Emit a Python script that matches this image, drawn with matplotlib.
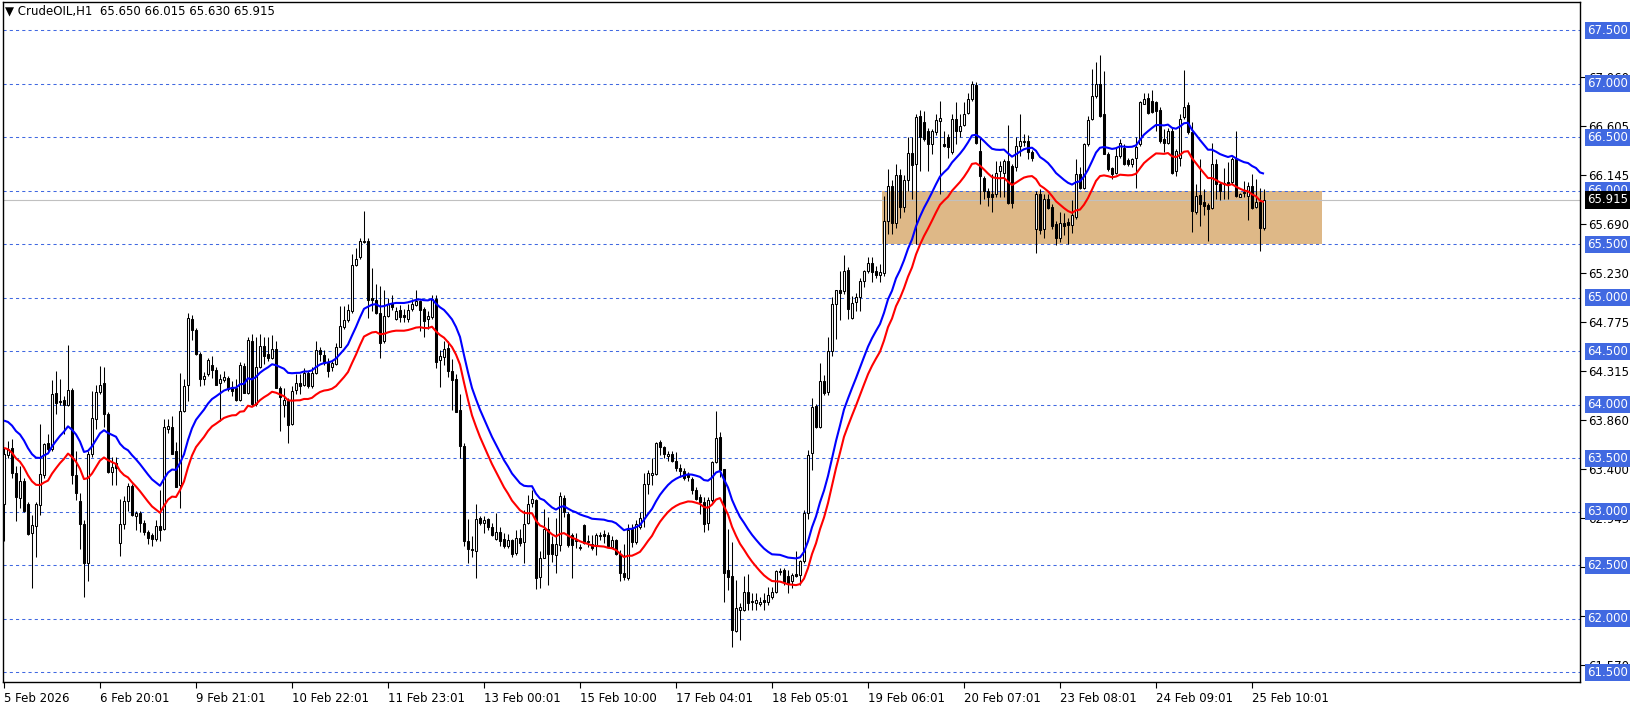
import numpy as np
import pandas as pd
import matplotlib
matplotlib.use("Agg")
import matplotlib.pyplot as plt
from matplotlib.transforms import blended_transform_factory

symbol_title = "CrudeOIL,H1"

opens = [
    63.07, 63.53, 63.60, 63.36, 63.13, 63.29, 63.07, 62.80, 62.87, 63.06,
    63.34, 63.64, 63.59, 64.11, 64.03, 64.05, 64.00, 64.14, 63.34, 63.10,
    62.89, 62.52, 63.54, 63.87, 64.12, 64.20, 63.91, 63.37, 63.46, 62.71,
    62.89, 63.10, 63.24, 62.96, 62.99, 62.90, 62.81, 62.78, 62.75, 62.87,
    62.84, 63.77, 63.79, 63.57, 63.25, 63.94, 64.19, 64.80, 64.70, 64.48,
    64.24, 64.29, 64.37, 64.33, 64.20, 64.23, 64.25, 64.17, 64.16, 64.05,
    64.36, 64.11, 64.60, 64.01, 64.35, 64.55, 64.48, 64.44, 64.52, 64.16,
    64.00, 64.04, 63.82, 64.14, 64.20, 64.19, 64.30, 64.18, 64.30, 64.51,
    64.47, 64.39, 64.35, 64.38, 64.54, 64.73, 64.79, 64.88, 65.31, 65.38,
    65.52, 65.53, 65.00, 64.98, 64.86, 64.60, 64.83, 64.95, 64.80, 64.89,
    64.84, 64.80, 64.90, 64.93, 64.97, 64.90, 64.80, 64.82, 64.99, 64.42,
    64.45, 64.53, 64.32, 64.24, 63.95, 63.62, 62.73, 62.65, 62.63, 62.94,
    62.90, 62.93, 62.86, 62.75, 62.81, 62.75, 62.68, 62.74, 62.62, 62.76,
    62.72, 62.90, 63.08, 63.11, 62.39, 62.57, 62.84, 62.70, 62.60, 62.69,
    63.13, 62.98, 62.78, 62.73, 62.67, 62.88, 62.73, 62.70, 62.68, 62.77,
    62.79, 62.78, 62.67, 62.74, 62.61, 62.43, 62.38, 62.84, 62.72, 62.86,
    62.94, 63.26, 63.34, 63.35, 63.65, 63.61, 63.52, 63.54, 63.48, 63.41,
    63.38, 63.35, 63.31, 63.20, 63.14, 63.09, 62.90, 63.11, 63.47, 63.70,
    63.40, 62.46, 62.40, 61.89, 62.08, 62.08, 62.25, 62.17, 62.15, 62.14,
    62.18, 62.16, 62.20, 62.25, 62.44, 62.46, 62.40, 62.35, 62.42, 62.41,
    62.54, 62.99, 63.55, 63.99, 63.79, 64.22, 64.12, 64.50, 64.94, 65.07,
    65.06, 65.26, 64.81, 64.96, 65.01, 65.16, 65.25, 65.33, 65.25, 65.21,
    65.23, 65.72, 66.05, 65.70, 66.15, 65.85, 66.10, 66.35, 66.25, 66.70,
    66.64, 66.56, 66.44, 66.55, 66.65, 66.44, 66.50, 66.36, 66.67, 66.56,
    66.62, 66.73, 66.86, 66.99, 66.37, 66.12, 66.00, 65.97, 65.97, 66.19,
    66.17, 66.28, 66.23, 66.22, 66.42, 66.46, 66.47, 66.36, 65.64, 65.97,
    65.64, 65.92, 65.85, 65.69, 65.56, 65.70, 65.71, 65.68, 65.76, 66.16,
    66.03, 66.44, 66.67, 66.89, 67.00, 66.72, 66.34, 66.21, 66.17, 66.33,
    66.40, 66.29, 66.25, 66.31, 66.44, 66.81, 66.87, 66.84, 66.83, 66.76,
    66.48, 66.45, 66.56, 66.19, 66.31, 66.69, 66.80, 66.55, 65.80, 65.96,
    65.90, 65.87, 65.84, 66.25, 66.06, 66.07, 66.08, 66.08, 66.30, 65.94,
    65.99, 65.95, 66.05, 65.85, 65.90, 65.65,
]
highs = [
    63.60, 63.66, 63.68, 63.43, 63.43, 63.32, 63.09, 62.97, 63.09, 63.82,
    63.64, 63.73, 64.23, 64.32, 64.24, 64.08, 64.56, 64.16, 63.57, 63.18,
    62.92, 63.57, 64.13, 64.19, 64.36, 64.35, 63.93, 63.51, 63.51, 63.12,
    63.15, 63.27, 63.26, 63.01, 63.01, 62.92, 62.83, 62.80, 62.92, 63.20,
    63.87, 63.87, 63.90, 63.65, 64.30, 64.24, 64.86, 64.84, 64.72, 64.49,
    64.31, 64.44, 64.46, 64.35, 64.29, 64.32, 64.27, 64.22, 64.24, 64.40,
    64.39, 64.63, 64.66, 64.63, 64.66, 64.63, 64.63, 64.65, 64.60, 64.18,
    64.16, 64.06, 64.18, 64.29, 64.29, 64.34, 64.32, 64.35, 64.60, 64.54,
    64.51, 64.44, 64.42, 64.58, 64.92, 64.92, 64.94, 65.41, 65.47, 65.56,
    65.81, 65.56, 65.28, 65.13, 65.11, 65.07, 65.00, 65.03, 64.91, 64.93,
    64.90, 64.94, 64.99, 65.07, 64.98, 64.91, 64.88, 65.03, 65.03, 64.51,
    64.60, 64.60, 64.43, 64.29, 64.10, 63.64, 62.93, 62.77, 63.07, 62.96,
    62.96, 62.94, 62.90, 62.99, 62.86, 62.80, 62.79, 62.75, 62.83, 62.84,
    63.02, 63.16, 63.20, 63.12, 62.63, 63.03, 62.95, 62.77, 62.94, 63.19,
    63.16, 63.00, 62.80, 62.80, 62.70, 62.89, 62.78, 62.78, 62.80, 62.81,
    62.83, 62.81, 62.77, 62.75, 62.64, 62.70, 62.89, 62.89, 62.92, 63.00,
    63.36, 63.39, 63.50, 63.65, 63.67, 63.62, 63.57, 63.57, 63.56, 63.45,
    63.41, 63.37, 63.33, 63.23, 63.17, 63.14, 63.14, 63.48, 63.94, 63.75,
    63.40, 62.84, 62.72, 62.36, 62.15, 62.40, 62.42, 62.24, 62.24, 62.20,
    62.24, 62.30, 62.30, 62.46, 62.48, 62.48, 62.46, 62.43, 62.63, 62.55,
    63.02, 63.58, 64.06, 64.01, 64.39, 64.28, 64.63, 65.01, 65.07, 65.25,
    65.40, 65.29, 65.02, 65.05, 65.19, 65.26, 65.38, 65.38, 65.30, 65.32,
    65.95, 66.20, 66.10, 66.25, 66.20, 66.15, 66.50, 66.50, 66.72, 66.76,
    66.75, 66.59, 66.58, 66.72, 66.84, 66.56, 66.53, 66.72, 66.83, 66.72,
    66.83, 66.91, 67.03, 67.02, 66.50, 66.14, 66.03, 66.16, 66.28, 66.28,
    66.30, 66.62, 66.25, 66.50, 66.72, 66.53, 66.52, 66.38, 66.00, 66.02,
    65.97, 65.97, 65.88, 65.72, 65.80, 65.79, 65.75, 65.91, 66.30, 66.22,
    66.45, 66.70, 67.14, 67.20, 67.27, 67.12, 66.36, 66.22, 66.41, 66.48,
    66.44, 66.31, 66.31, 66.50, 66.84, 66.91, 66.91, 66.94, 66.84, 66.78,
    66.58, 66.59, 66.59, 66.39, 66.72, 67.13, 66.83, 66.64, 66.06, 66.30,
    66.02, 65.89, 66.45, 66.30, 66.08, 66.21, 66.27, 66.32, 66.56, 65.98,
    66.09, 66.08, 66.16, 66.11, 66.03, 66.015,
]
lows = [
    62.73, 63.50, 63.32, 62.91, 63.04, 63.00, 62.78, 62.29, 62.58, 62.97,
    63.32, 63.57, 63.57, 63.91, 64.00, 63.73, 63.99, 63.26, 63.11, 62.65,
    62.20, 62.35, 63.51, 63.77, 64.10, 63.79, 63.36, 63.25, 63.25, 62.59,
    62.84, 63.01, 62.96, 62.83, 62.81, 62.78, 62.70, 62.68, 62.73, 62.73,
    62.83, 63.74, 63.54, 63.23, 63.04, 63.93, 64.04, 64.61, 64.47, 64.18,
    64.19, 64.27, 64.25, 64.19, 63.85, 64.21, 64.13, 64.08, 64.04, 64.04,
    64.11, 64.10, 63.99, 63.99, 64.34, 64.38, 64.41, 64.43, 64.16, 63.76,
    63.89, 63.64, 63.81, 64.10, 64.10, 64.18, 64.16, 64.16, 64.29, 64.41,
    64.37, 64.26, 64.32, 64.37, 64.54, 64.71, 64.77, 64.86, 65.30, 65.36,
    65.51, 64.81, 64.88, 64.85, 64.44, 64.58, 64.82, 64.89, 64.79, 64.77,
    64.77, 64.77, 64.88, 64.92, 64.69, 64.63, 64.71, 64.80, 64.34, 64.17,
    64.37, 64.26, 63.95, 63.93, 63.50, 62.68, 62.52, 62.58, 62.38, 62.88,
    62.80, 62.83, 62.77, 62.74, 62.68, 62.66, 62.66, 62.58, 62.60, 62.68,
    62.52, 62.89, 63.05, 62.28, 62.29, 62.57, 62.32, 62.53, 62.43, 62.63,
    62.95, 62.67, 62.38, 62.66, 62.64, 62.70, 62.67, 62.64, 62.60, 62.74,
    62.71, 62.67, 62.66, 62.60, 62.35, 62.36, 62.36, 62.67, 62.70, 62.84,
    62.86, 63.17, 63.25, 63.34, 63.53, 63.50, 63.48, 63.47, 63.38, 63.33,
    63.30, 63.29, 63.17, 63.11, 62.98, 62.81, 62.83, 63.09, 63.46, 63.33,
    62.16, 62.27, 61.74, 61.88, 61.80, 62.07, 62.08, 62.08, 62.08, 62.12,
    62.08, 62.13, 62.19, 62.24, 62.41, 62.32, 62.24, 62.29, 62.39, 62.32,
    62.52, 62.93, 63.39, 63.78, 63.78, 64.09, 64.09, 64.46, 64.62, 64.79,
    65.04, 64.80, 64.80, 64.88, 64.88, 65.10, 65.23, 65.15, 65.19, 65.15,
    65.20, 65.60, 65.60, 65.65, 65.75, 65.80, 66.00, 65.92, 65.50, 66.19,
    66.47, 66.19, 66.34, 66.52, 65.97, 66.41, 66.31, 66.34, 66.44, 66.50,
    66.61, 66.72, 66.84, 66.44, 65.88, 65.92, 65.86, 65.80, 65.94, 65.94,
    65.94, 65.88, 65.84, 66.19, 66.33, 66.42, 66.30, 66.28, 65.42, 65.60,
    65.56, 65.83, 65.64, 65.49, 65.52, 65.59, 65.50, 65.61, 65.74, 66.02,
    66.02, 66.42, 66.66, 66.87, 66.69, 66.34, 66.19, 66.11, 66.16, 66.31,
    66.24, 66.23, 66.22, 66.03, 66.42, 66.81, 66.72, 66.73, 66.56, 66.45,
    66.36, 66.44, 66.16, 66.14, 66.23, 66.67, 66.53, 65.62, 65.78, 65.67,
    65.77, 65.53, 65.83, 65.92, 65.91, 65.92, 65.92, 66.06, 65.94, 65.94,
    65.94, 65.73, 65.83, 65.84, 65.44, 65.63,
]
closes = [
    63.54, 63.59, 63.36, 63.14, 63.29, 63.01, 62.79, 62.88, 63.07, 63.35,
    63.63, 63.59, 64.10, 64.02, 64.04, 64.00, 64.14, 63.34, 63.18, 62.89,
    62.52, 63.54, 63.88, 64.12, 64.19, 63.91, 63.37, 63.42, 63.41, 62.89,
    63.10, 63.24, 62.97, 62.99, 62.90, 62.81, 62.76, 62.75, 62.87, 62.83,
    63.79, 63.80, 63.54, 63.23, 63.94, 64.18, 64.81, 64.70, 64.48, 64.24,
    64.27, 64.42, 64.33, 64.19, 64.24, 64.26, 64.15, 64.13, 64.05, 64.37,
    64.11, 64.61, 64.01, 64.35, 64.55, 64.46, 64.44, 64.52, 64.16, 64.07,
    64.05, 63.81, 64.13, 64.20, 64.18, 64.30, 64.18, 64.30, 64.51, 64.48,
    64.39, 64.32, 64.39, 64.54, 64.74, 64.79, 64.89, 65.31, 65.36, 65.53,
    65.53, 64.98, 64.98, 64.86, 64.58, 64.83, 64.94, 64.91, 64.88, 64.82,
    64.82, 64.89, 64.94, 64.97, 64.89, 64.78, 64.83, 64.99, 64.40, 64.46,
    64.52, 64.32, 64.23, 63.93, 63.62, 62.73, 62.65, 62.64, 62.93, 62.90,
    62.92, 62.86, 62.78, 62.81, 62.73, 62.68, 62.74, 62.61, 62.76, 62.71,
    62.89, 63.07, 63.12, 62.38, 62.57, 62.84, 62.61, 62.61, 62.70, 63.15,
    63.00, 62.69, 62.69, 62.74, 62.66, 62.71, 62.72, 62.66, 62.78, 62.78,
    62.77, 62.68, 62.74, 62.61, 62.43, 62.39, 62.83, 62.72, 62.89, 62.94,
    63.26, 63.36, 63.36, 63.64, 63.61, 63.54, 63.54, 63.48, 63.41, 63.38,
    63.32, 63.33, 63.20, 63.12, 63.09, 62.89, 63.11, 63.47, 63.69, 63.39,
    62.43, 62.39, 61.90, 62.10, 62.11, 62.25, 62.15, 62.16, 62.18, 62.16,
    62.16, 62.22, 62.25, 62.45, 62.45, 62.34, 62.33, 62.41, 62.40, 62.54,
    62.99, 63.53, 63.98, 63.79, 64.22, 64.11, 64.50, 64.94, 65.07, 65.05,
    65.25, 64.90, 64.95, 65.01, 65.16, 65.25, 65.33, 65.24, 65.21, 65.24,
    65.72, 66.05, 65.70, 66.15, 65.85, 66.10, 66.35, 66.24, 66.69, 66.50,
    66.48, 66.44, 66.56, 66.66, 66.68, 66.42, 66.41, 66.67, 66.56, 66.61,
    66.72, 66.86, 67.00, 66.45, 66.14, 66.00, 65.94, 65.94, 66.17, 66.23,
    66.28, 65.89, 65.89, 66.42, 66.47, 66.47, 66.36, 66.31, 65.97, 65.63,
    65.92, 65.84, 65.67, 65.56, 65.70, 65.67, 65.68, 65.77, 66.16, 66.03,
    66.44, 66.66, 66.89, 67.00, 66.70, 66.34, 66.20, 66.16, 66.33, 66.45,
    66.25, 66.25, 66.30, 66.41, 66.83, 66.86, 66.73, 66.74, 66.75, 66.47,
    66.45, 66.56, 66.17, 66.37, 66.67, 66.78, 66.55, 65.81, 65.95, 65.88,
    65.86, 65.83, 66.25, 66.06, 66.00, 66.06, 66.06, 66.30, 65.95, 65.97,
    65.98, 66.05, 65.84, 65.90, 65.65, 65.915,
]

time_labels = ["5 Feb 2026", "6 Feb 20:01", "9 Feb 21:01", "10 Feb 22:01",
               "11 Feb 23:01", "13 Feb 00:01", "15 Feb 10:00", "17 Feb 04:01",
               "18 Feb 05:01", "19 Feb 06:01", "20 Feb 07:01", "23 Feb 08:01",
               "24 Feb 09:01", "25 Feb 10:01"]
bars_per_label = 24

level_lines = [67.5, 67.0, 66.5, 66.0, 65.5, 65.0, 64.5, 64.0, 63.5, 63.0, 62.5, 62.0, 61.5]
price_ticks = [67.060, 66.605, 66.145, 65.690, 65.230, 64.775, 64.315, 63.860,
               63.400, 62.945, 62.485, 62.030, 61.570]

ema_seed = 63.745
ema_period = 20
envelope_pct = 0.2

zone_low, zone_high = 65.5, 66.0
zone_first_bar, zone_last_bar = 219.5, 329.5

# ---------------------------------------------------------------
n = min(len(opens), len(highs), len(lows), len(closes))
o = np.array(opens[:n]); h = np.array(highs[:n]); l = np.array(lows[:n]); c = np.array(closes[:n])
x = np.arange(n)

W, H = 1641, 707
fig = plt.figure(figsize=(W / 100, H / 100), dpi=100)
fig.patch.set_facecolor("white")
ax = fig.add_axes([3 / W, 1 - 682 / H, 1577 / W, 680 / H])
ax.set_facecolor("white")
ax.set_xlim(-0.25, 394.0)
ax.set_ylim(61.41, 67.765)

LEVEL_BLUE = "#4169E1"

# zone rectangle
ax.fill_between([zone_first_bar, zone_last_bar], zone_low, zone_high,
                color="#DEB887", lw=0, zorder=0.5)

# level lines
for lv in level_lines:
    ax.axhline(lv, color=LEVEL_BLUE, lw=0.75, ls=(0, (3, 3)), zorder=1)

# current price line
ax.axhline(c[-1], color="#C0C0C0", lw=0.8, zorder=1.2)

# candles
ax.vlines(x, l, h, color="black", lw=0.75, zorder=3)
up = c >= o
bottoms = np.minimum(o, c)
heights = np.abs(c - o)
ax.bar(x[up], heights[up], bottom=bottoms[up], width=0.55, color="white",
       edgecolor="black", lw=0.75, zorder=4)
ax.bar(x[~up], heights[~up], bottom=bottoms[~up], width=0.55, color="black",
       edgecolor="black", lw=0.75, zorder=4)

# EMA envelope
ema = pd.Series([ema_seed] + list(c)).ewm(span=ema_period, adjust=False).mean().values[1:]
upper = ema * (1 + envelope_pct / 100)
lower = ema * (1 - envelope_pct / 100)
ax.plot(x, upper, color="#0000FF", lw=1.5, zorder=5, solid_capstyle="butt")
ax.plot(x, lower, color="#FF0000", lw=1.5, zorder=5, solid_capstyle="butt")

# frame
for sp in ax.spines.values():
    sp.set_color("black")
    sp.set_linewidth(1.0)

FS = 8.5
# right axis
ax.yaxis.tick_right()
ax.set_yticks(price_ticks)
ax.set_yticklabels([f"{p:.3f}" for p in price_ticks], fontsize=FS)
ax.tick_params(axis="y", length=4, width=0.8, pad=2, colors="black")

# x axis
tick_pos = [i * bars_per_label for i in range(len(time_labels))]
ax.set_xticks(tick_pos)
ax.set_xticklabels(time_labels, fontsize=FS, ha="left")
ax.tick_params(axis="x", length=4, width=0.8, pad=3)

trans = blended_transform_factory(ax.transAxes, ax.transData)
for lv in level_lines:
    ax.text(1.0 + 7 / 1577, lv, f"{lv:.3f}", transform=trans, ha="left", va="center",
            fontsize=FS, color="white", zorder=10,
            bbox=dict(boxstyle="square,pad=0.18", fc=LEVEL_BLUE, ec="none"))
ax.text(1.0 + 7 / 1577, c[-1], f"{c[-1]:.3f}", transform=trans, ha="left", va="center",
        fontsize=FS, color="white", zorder=11,
        bbox=dict(boxstyle="square,pad=0.18", fc="black", ec="none"))

# title
title = f"\u25BC {symbol_title}  {o[-1]:.3f} {h[-1]:.3f} {l[-1]:.3f} {c[-1]:.3f}"
fig.text(5 / W, 1 - 11 / H, title, fontsize=FS, ha="left", va="center", color="black")

fig.savefig("out.png", dpi=100, facecolor="white")
print(len(opens), len(highs), len(lows), len(closes))
